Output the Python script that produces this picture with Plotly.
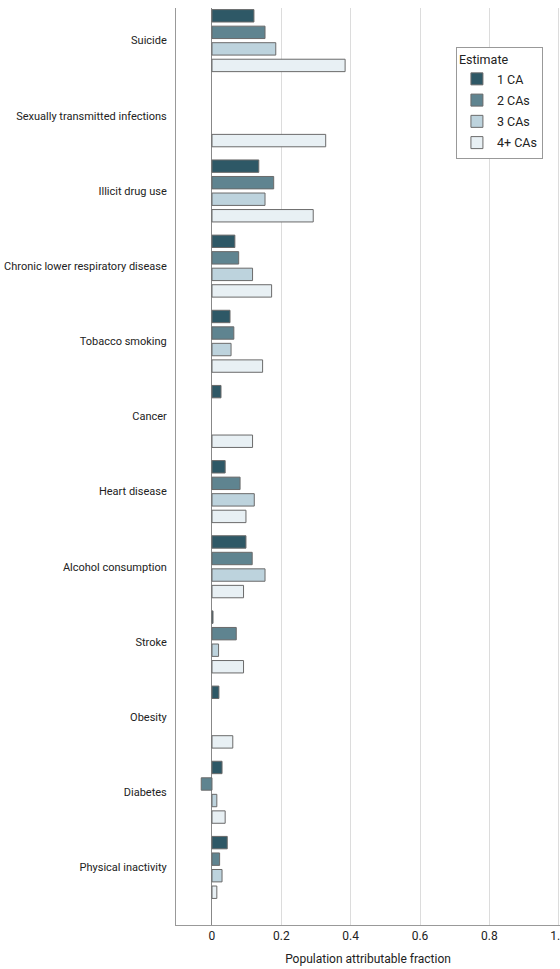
import plotly.graph_objects as go

categories = ["Suicide", "Sexually transmitted infections", "Illicit drug use",
              "Chronic lower respiratory disease", "Tobacco smoking", "Cancer",
              "Heart disease", "Alcohol consumption", "Stroke", "Obesity",
              "Diabetes", "Physical inactivity"]
series_names = ["1 CA", "2 CAs", "3 CAs", "4+ CAs"]
ca1 = [0.121, None, 0.135, 0.066, 0.052, 0.026, 0.038, 0.098, 0.003, 0.020, 0.029, 0.044]
ca2 = [0.153, None, 0.178, 0.077, 0.063, None, 0.081, 0.116, 0.070, None, -0.031, 0.022]
ca3 = [0.184, None, 0.153, 0.117, 0.055, None, 0.122, 0.153, 0.019, None, 0.014, 0.029]
ca4 = [0.384, 0.328, 0.292, 0.172, 0.146, 0.117, 0.098, 0.091, 0.091, 0.060, 0.038, 0.014]
colors = ["#2e5866", "#5f8490", "#bdd3dd", "#e8f0f4"]
xticks = [0, 0.2, 0.4, 0.6, 0.8, 1.0]
xtick_text = ["0", "0.2", "0.4", "0.6", "0.8", "1.0"]

FONT = "Roboto, sans-serif"

fig = go.Figure()
for name, vals, col in zip(series_names, [ca1, ca2, ca3, ca4], colors):
    fig.add_trace(go.Bar(
        y=categories, x=vals, name=name, orientation="h", legendgroup=name,
        marker=dict(color=col, line=dict(color="#6a6a6a", width=1)),
    ))

fig.update_layout(
    width=560, height=969,
    margin=dict(l=176, r=0, t=8, b=44, autoexpand=False),
    paper_bgcolor="white", plot_bgcolor="white",
    barmode="group", bargap=0.12, bargroupgap=0.25,
    font=dict(family=FONT, size=11, color="#222"),
    showlegend=True,
    legend=dict(
        title=dict(text="Estimate", font=dict(size=12.5)),
        x=0.729, y=0.9575, xanchor="left", yanchor="top",
        bordercolor="#999", borderwidth=1, bgcolor="white",
        font=dict(size=12.5), traceorder="grouped", tracegroupgap=2,
    ),
    xaxis=dict(
        range=[-0.1038, 1.0038], tickvals=xticks, ticktext=xtick_text,
        showgrid=True, gridcolor="#dcdcdc", gridwidth=1,
        zeroline=True, zerolinecolor="#888", zerolinewidth=1,
        showline=True, linecolor="#999", linewidth=1,
        ticks="", tickfont=dict(size=12, color="#222"),
        ticklabeloverflow="allow", automargin=False,
        title=dict(text="Population attributable fraction", font=dict(size=12), standoff=12),
    ),
    yaxis=dict(
        categoryorder="array", categoryarray=categories,
        range=[11.766, -0.434], autorange=False,
        showgrid=False, zeroline=False, automargin=False,
        showline=True, linecolor="#999", linewidth=1,
        ticks="outside", ticklen=6, tickcolor="rgba(0,0,0,0)",
        tickfont=dict(size=11, color="#222"),
    ),
)

fig.write_html("out.html")
